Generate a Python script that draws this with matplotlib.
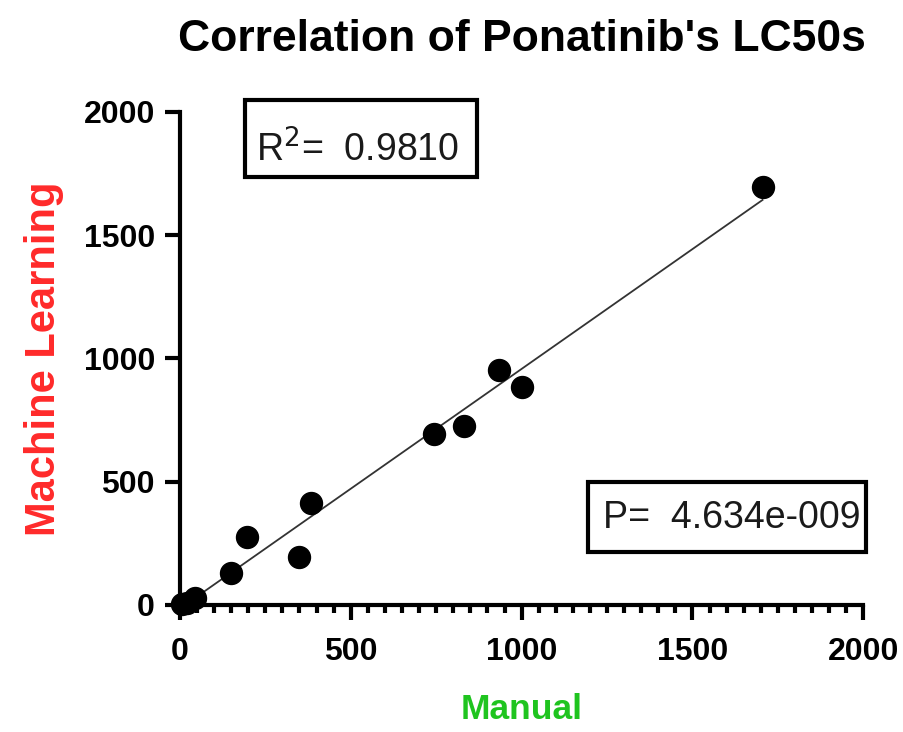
import numpy as np
import matplotlib
matplotlib.use("Agg")
import matplotlib.pyplot as plt
from matplotlib.patches import Rectangle
from matplotlib.ticker import MultipleLocator

# LC50 values: manual counting vs machine learning
manual = [5, 20, 45, 150, 195, 350, 385, 745, 830, 935, 1000, 1705]
machine = [5, 10, 30, 130, 275, 195, 415, 695, 725, 955, 885, 1695]
r2_label = "0.9810"
p_label = "4.634e-009"

plt.rcParams["font.family"] = ["Liberation Sans", "DejaVu Sans"]

fig = plt.figure(figsize=(9.04, 7.32), dpi=100)
ax = fig.add_axes([0.199, 0.1735, 0.756, 0.6735])

x = np.array(manual, dtype=float)
y = np.array(machine, dtype=float)
slope, intercept = np.polyfit(x, y, 1)
xl = np.array([x.min(), x.max()])
ax.plot(xl, slope * xl + intercept, color="#333333", lw=1.3, zorder=2)
ax.scatter(x, y, s=250, color="black", zorder=3, clip_on=False)

ax.set_xlim(0, 2000)
ax.set_ylim(0, 2000)
ax.xaxis.set_major_locator(MultipleLocator(500))
ax.xaxis.set_minor_locator(MultipleLocator(50))
ax.yaxis.set_major_locator(MultipleLocator(500))

for s in ("top", "right"):
    ax.spines[s].set_visible(False)
for s in ("left", "bottom"):
    ax.spines[s].set_linewidth(3)
ax.tick_params(axis="both", which="major", length=11, width=3, direction="out",
               labelsize=23, pad=7)
ax.tick_params(axis="x", which="major", pad=12)
ax.tick_params(axis="x", which="minor", length=6, width=3, direction="out")
for lab in ax.get_xticklabels() + ax.get_yticklabels():
    lab.set_fontweight("bold")

ax.set_xlabel("Manual", color="#1fc41f", fontsize=25.5, fontweight="bold", labelpad=19)
ax.set_ylabel("Machine Learning", color="#ff2a2a", fontsize=30, fontweight="bold", labelpad=14)
ax.set_title("Correlation of Ponatinib's LC50s", fontsize=32, fontweight="bold", pad=44)

# statistics boxes (axes coordinates)
ax.add_patch(Rectangle((0.095, 0.868), 0.34, 0.156, transform=ax.transAxes,
                       fc="white", ec="black", lw=3, clip_on=False, zorder=4))
ax.text(0.112, 0.8986, r"R$^2$=  " + r2_label, transform=ax.transAxes, fontsize=27,
        va="baseline", ha="left", color="#1a1a1a", zorder=5)
ax.add_patch(Rectangle((0.597, 0.1075), 0.407, 0.142, transform=ax.transAxes,
                       fc="white", ec="black", lw=3, clip_on=False, zorder=4))
ax.text(0.619, 0.156, "P=  " + p_label, transform=ax.transAxes, fontsize=27,
        va="baseline", ha="left", color="#1a1a1a", zorder=5)

fig.savefig("out.png", dpi=100, facecolor="white")
